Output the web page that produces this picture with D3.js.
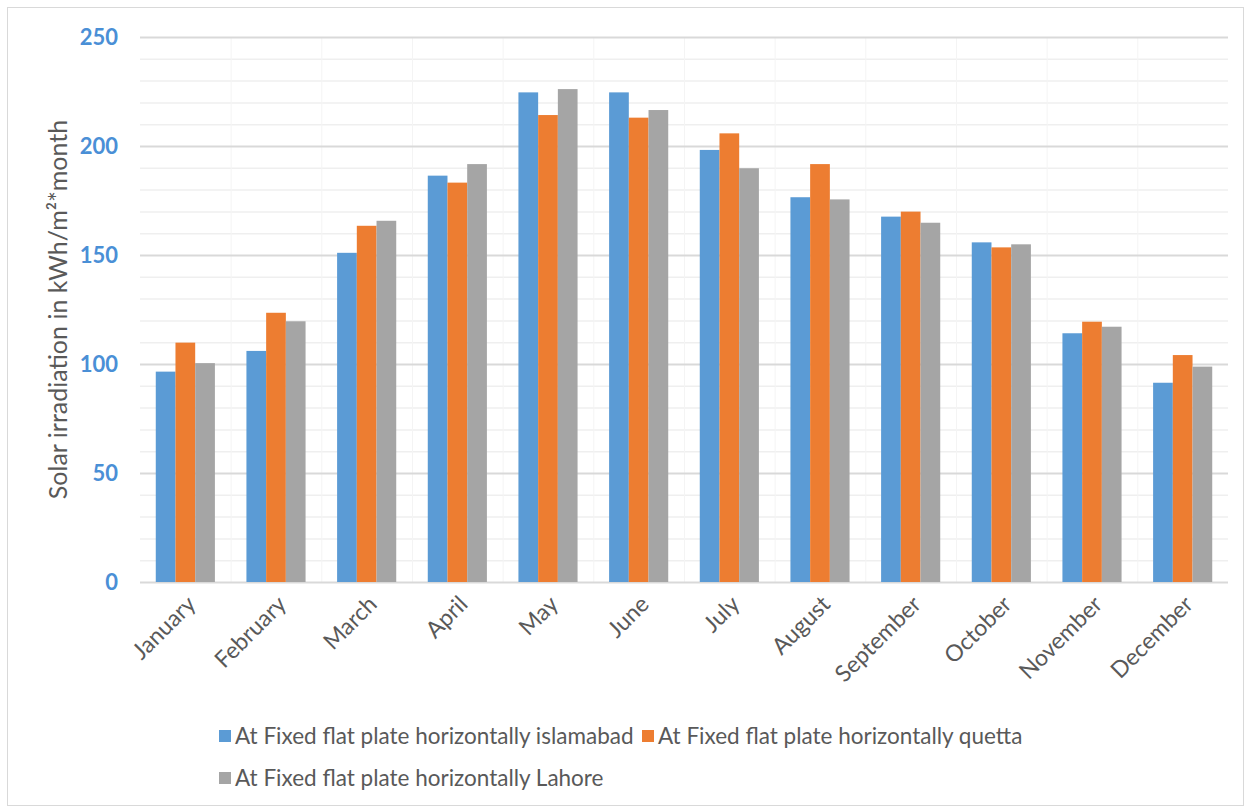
<!DOCTYPE html>
<html>
<head>
<meta charset="utf-8">
<script src="https://cdn.jsdelivr.net/npm/d3@7"></script>
<style>
  html, body { margin: 0; padding: 0; background: #ffffff; }
  svg { display: block; }
</style>
</head>
<body>
<script>
// Monthly solar irradiation on a fixed horizontal flat plate (kWh/m²·month)
const months = ["January", "February", "March", "April", "May", "June",
                "July", "August", "September", "October", "November", "December"];
const islamabad = [96.5, 106, 151, 186.4, 224.6, 224.6, 198.2, 176.5, 167.6, 155.8, 114.1, 91.4];
const quetta    = [109.8, 123.5, 163.4, 183.2, 214.2, 213, 205.8, 191.7, 169.9, 153.5, 119.4, 104.1];
const lahore    = [100.4, 119.6, 165.7, 191.7, 226.1, 216.5, 189.8, 175.5, 164.8, 154.9, 117.1, 98.8];
const seriesNames = ["At Fixed flat plate horizontally islamabad",
                     "At Fixed flat plate horizontally quetta",
                     "At Fixed flat plate horizontally Lahore"];
const seriesColors = ["#5b9bd5", "#ed7d31", "#a5a5a5"];
const yTicks = [0, 50, 100, 150, 200, 250];
const yTitle = "Solar irradiation in kWh/m²*month";

const W = 1252, H = 809;
const plot = { left: 140, right: 1228, top: 37, bottom: 582 };

const svg = d3.select("body").append("svg")
  .attr("width", W).attr("height", H)
  .style("font-family", "Lato, 'Open Sans', sans-serif");

// chart frame
svg.append("rect")
  .attr("x", 7.5).attr("y", 7.5)
  .attr("width", 1236).attr("height", 798)
  .attr("fill", "#ffffff").attr("stroke", "#d9d9d9").attr("stroke-width", 1);

const series = [islamabad, quetta, lahore];

const x0 = d3.scaleBand().domain(months)
  .range([plot.left, plot.right]).paddingInner(0).paddingOuter(0);
const x1 = d3.scaleBand().domain(d3.range(series.length))
  .range([0, x0.bandwidth()]).paddingInner(0).paddingOuter(0.8);
const y = d3.scaleLinear().domain([0, 250]).range([plot.bottom, plot.top]);

// minor gridlines every 10
const minor = d3.range(10, 250, 10).filter(v => v % 50 !== 0);
svg.append("g").selectAll("line").data(minor).join("line")
  .attr("x1", plot.left).attr("x2", plot.right)
  .attr("y1", d => y(d) + 0.5).attr("y2", d => y(d) + 0.5)
  .attr("stroke", "#efefef").attr("stroke-width", 1.5);

// faint vertical separators between months
svg.append("g").selectAll("line").data(months.slice(1)).join("line")
  .attr("x1", d => x0(d) + 0.5).attr("x2", d => x0(d) + 0.5)
  .attr("y1", plot.top).attr("y2", plot.bottom)
  .attr("stroke", "#f4f4f4").attr("stroke-width", 1);

// major gridlines and y axis labels
const yAxis = d3.axisLeft(y).tickValues(yTicks).tickSize(-(plot.right - plot.left)).tickPadding(22);
const gy = svg.append("g").attr("transform", `translate(${plot.left},0)`).call(yAxis);
gy.select(".domain").remove();
gy.selectAll(".tick line").attr("stroke", "#d9d9d9").attr("stroke-width", 2);
gy.selectAll(".tick text")
  .attr("fill", "#4a8fd6").attr("font-size", 22).attr("font-weight", "bold")
  .attr("font-family", "Lato, sans-serif");

// bars
const groups = svg.append("g").selectAll("g").data(months).join("g")
  .attr("transform", d => `translate(${x0(d)},0)`);
groups.selectAll("rect")
  .data((m, i) => series.map((s, k) => ({ k, v: s[i] })))
  .join("rect")
  .attr("x", d => x1(d.k))
  .attr("width", x1.bandwidth())
  .attr("y", d => y(d.v))
  .attr("height", d => y(0) - y(d.v))
  .attr("fill", d => seriesColors[d.k]);

// category labels, rotated
svg.append("g").selectAll("text").data(months).join("text")
  .attr("transform", d => `translate(${x0(d) + x0.bandwidth() / 2 + 6},${plot.bottom + 18}) rotate(-45)`)
  .attr("text-anchor", "end")
  .attr("dy", "0.35em")
  .attr("font-size", 23)
  .attr("fill", "#595959")
  .text(d => d);

// y axis title
svg.append("text")
  .attr("transform", `translate(67,${(117 + 502) / 2}) rotate(-90)`)
  .attr("text-anchor", "middle")
  .attr("font-size", 25)
  .attr("fill", "#595959")
  .text(yTitle);

// legend
const legendItems = [
  { name: seriesNames[0], color: seriesColors[0], x: 219, y: 736 },
  { name: seriesNames[1], color: seriesColors[1], x: 642, y: 736 },
  { name: seriesNames[2], color: seriesColors[2], x: 219, y: 778 }
];
const lg = svg.append("g").selectAll("g").data(legendItems).join("g")
  .attr("transform", d => `translate(${d.x},${d.y})`);
lg.append("rect").attr("x", 0).attr("y", -6).attr("width", 12).attr("height", 12)
  .attr("fill", d => d.color);
lg.append("text").attr("x", 16).attr("dy", "0.35em")
  .attr("font-size", 22.5).attr("fill", "#595959")
  .text(d => d.name);
</script>
</body>
</html>
